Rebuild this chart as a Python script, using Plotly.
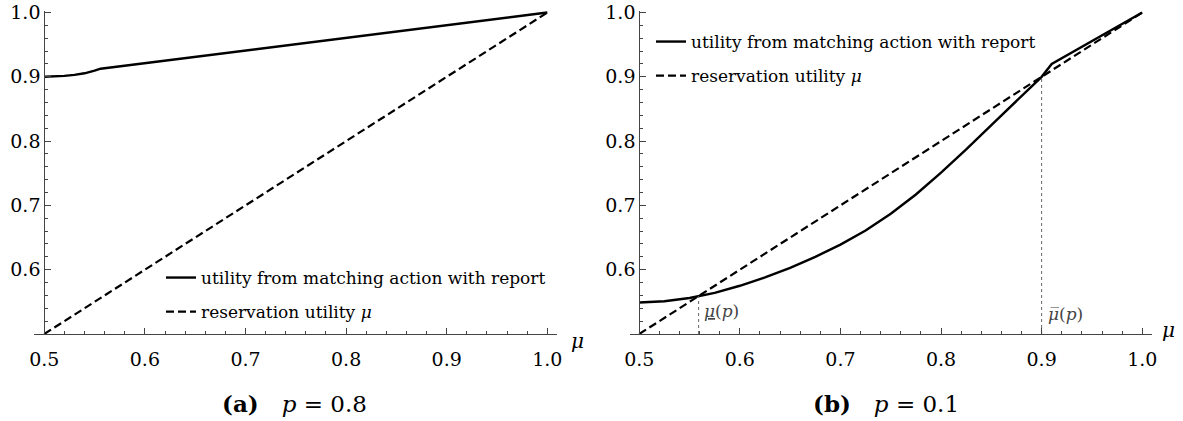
import plotly.graph_objects as go

# ---------------- data ----------------
# panel (a): p = 0.8
mu_a = [0.5, 0.51, 0.52, 0.53, 0.54, 0.55, 0.556, 1.0]
util_a = [0.9, 0.9004, 0.9015, 0.903, 0.9055, 0.9095, 0.9126, 1.0]

# panel (b): p = 0.1
mu_b = [0.5, 0.525, 0.55, 0.575, 0.6, 0.625, 0.65, 0.675, 0.7, 0.725, 0.75,
        0.775, 0.8, 0.825, 0.85, 0.875, 0.9, 0.91, 1.0]
util_b = [0.549, 0.551, 0.556, 0.564, 0.575, 0.588, 0.603, 0.62, 0.639, 0.661,
          0.687, 0.717, 0.751, 0.787, 0.825, 0.863, 0.9, 0.92, 1.0]

# reservation utility mu (45-degree line)
res_mu = [0.5, 1.0]
res_u = [0.5, 1.0]

# thresholds in panel (b)
mu_low = 0.559
mu_high = 0.9

x_ticks = [0.5, 0.6, 0.7, 0.8, 0.9, 1.0]
x_ticklabels = ["0.5", "0.6", "0.7", "0.8", "0.9", "1.0"]
y_ticks = [0.6, 0.7, 0.8, 0.9, 1.0]
y_ticklabels = ["0.6", "0.7", "0.8", "0.9", "1.0"]

legend_solid = "utility from matching action with report"
legend_dashed = "reservation utility <i>μ</i>"

# ---------------- layout constants ----------------
W, H = 1183, 421
FONT = "DejaVu Serif"
AX = "#444444"

fig = go.Figure()

def add_panel(xa, ya, mu, util, legend_name):
    fig.add_trace(go.Scatter(x=mu, y=util, mode="lines", name=legend_solid,
                             line=dict(color="black", width=2.4),
                             xaxis=xa, yaxis=ya, legend=legend_name,
                             legendgroup=legend_name + "s"))
    fig.add_trace(go.Scatter(x=res_mu, y=res_u, mode="lines", name=legend_dashed,
                             line=dict(color="black", width=2.2, dash="8px,4px"),
                             xaxis=xa, yaxis=ya, legend=legend_name,
                             legendgroup=legend_name + "d"))

add_panel("x", "y", mu_a, util_a, "legend")
add_panel("x2", "y2", mu_b, util_b, "legend2")

# dotted threshold lines in panel (b)
for m in (mu_low, mu_high):
    fig.add_trace(go.Scatter(x=[m, m], y=[0.5, m], mode="lines", showlegend=False,
                             line=dict(color="#666666", width=1, dash="dot"),
                             xaxis="x2", yaxis="y2"))

def xpix(p):
    return p / W

def ypix(p):
    return 1 - p / H

# y: 0.5 -> 334 px, 1.0 -> 12.5 px ; range padded a hair above 1.0
ydom = [ypix(334), ypix(10.6)]

common_x = dict(
    tickmode="array", tickvals=x_ticks, ticktext=x_ticklabels,
    ticks="inside", ticklen=6, tickwidth=1, tickcolor=AX,
    showline=True, linecolor=AX, linewidth=1, showgrid=False, zeroline=False,
    tickfont=dict(family=FONT, size=19, color="black"),
    minor=dict(ticks="inside", ticklen=3, tickcolor=AX, tick0=0.5, dtick=0.02),
    ticklabelstandoff=8,
)
common_y = dict(
    tickmode="array", tickvals=y_ticks, ticktext=y_ticklabels,
    ticks="inside", ticklen=6, tickwidth=1, tickcolor=AX,
    showline=True, linecolor=AX, linewidth=1, showgrid=False, zeroline=False,
    tickfont=dict(family=FONT, size=19, color="black"),
    minor=dict(ticks="inside", ticklen=3, tickcolor=AX, tick0=0.5, dtick=0.02),
    range=[0.5, 1.003], domain=ydom, anchor="free",
)

fig.update_layout(
    xaxis=dict(common_x, domain=[xpix(34), xpix(557)], range=[0.4898, 1.0096], anchor="y"),
    yaxis=dict(common_y, position=xpix(44.3)),
    xaxis2=dict(common_x, domain=[xpix(630), xpix(1152)], range=[0.4908, 1.0097], anchor="y2"),
    yaxis2=dict(common_y, position=xpix(639.3)),
)

legend_common = dict(font=dict(family=FONT, size=17, color="black"),
                     bgcolor="rgba(0,0,0,0)", xanchor="left", yanchor="top",
                     tracegroupgap=9, traceorder="grouped", itemwidth=30)
fig.update_layout(
    legend=dict(legend_common, x=xpix(161), y=ypix(260)),
    legend2=dict(legend_common, x=xpix(651), y=ypix(24)),
)

ann = []
def add_ann(x, y, text, size, xref="paper", yref="paper", xanchor="center",
            color="black", xshift=0):
    ann.append(dict(x=x, y=y, xref=xref, yref=yref, text=text, showarrow=False,
                    xanchor=xanchor, yanchor="middle", xshift=xshift,
                    font=dict(family=FONT, size=size, color=color)))

add_ann(xpix(577), ypix(341), "<i>μ</i>", 20)
add_ann(xpix(1168), ypix(330), "<i>μ</i>", 20)
add_ann(xpix(294), ypix(403), "<b>(a)</b>\u2003<i>p</i> = 0.8", 23)
add_ann(xpix(886), ypix(403), "<b>(b)</b>\u2003<i>p</i> = 0.1", 23)
add_ann(mu_low, 0.535, "<u><i>μ</i></u>(<i>p</i>)", 17, xref="x2", yref="y2",
        xanchor="left", color="#444444", xshift=3)
add_ann(mu_high, 0.531, "<i>μ\u0305</i>(<i>p</i>)", 17, xref="x2", yref="y2",
        xanchor="left", color="#444444", xshift=4)

fig.update_layout(
    width=W, height=H, margin=dict(l=0, r=0, t=0, b=0, autoexpand=False),
    paper_bgcolor="white", plot_bgcolor="white",
    annotations=ann, font=dict(family=FONT),
)

fig.write_html("out.html", config={"displayModeBar": False},
               post_script="document.body.style.margin='0px';")
